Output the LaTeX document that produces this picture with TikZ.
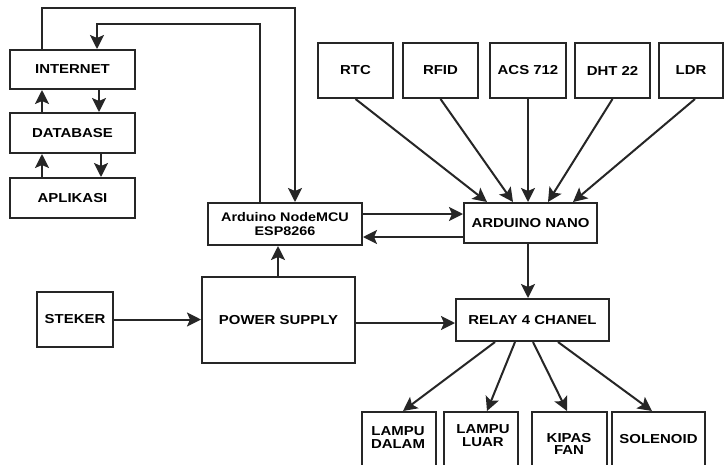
\documentclass[tikz,border=0pt]{standalone}
\usepackage{fontspec}
\setmainfont{Liberation Sans}[FakeStretch=1.15]
\usetikzlibrary{arrows.meta}
\begin{document}
\begin{tikzpicture}[x=1pt,y=-1pt,
  box/.style={draw=black!85, line width=2pt, fill=white, inner sep=0pt, align=center,
    font=\fontsize{13}{13}\selectfont\bfseries},
  lbl/.style={inner sep=0pt, align=center, font=\fontsize{13}{12.5}\selectfont\bfseries},
  arr/.style={draw=black!85, line width=2pt, -{Stealth[length=14pt,width=14pt,inset=3pt]}},
  ln/.style={draw=black!85, line width=2pt}]
\fill[white] (0,0) rectangle (726,464);
\useasboundingbox (0,0) rectangle (726,464);
% left column
\node[box, minimum width=125pt, minimum height=39pt] (internet) at (72.5,69.5) {INTERNET};
\node[box, minimum width=125pt, minimum height=40pt] (database) at (72.5,133) {DATABASE};
\node[box, minimum width=125pt, minimum height=40pt] (aplikasi) at (72.5,198) {APLIKASI};
% middle
\node[box, minimum width=154pt, minimum height=42pt, font=\fontsize{12.5}{14}\selectfont\bfseries] (nodemcu) at (285,224) {Arduino NodeMCU\\ESP8266};
\node[box, minimum width=133pt, minimum height=40pt] (nano) at (530.5,223) {ARDUINO NANO};
\node[box, minimum width=76pt, minimum height=55pt] (steker) at (75,319.5) {STEKER};
\node[box, minimum width=153pt, minimum height=86pt] (power) at (278.5,320) {POWER SUPPLY};
\node[box, minimum width=153pt, minimum height=42pt] (relay) at (532.5,320) {RELAY 4 CHANEL};
% sensors
\node[box, minimum width=75pt, minimum height=55pt] (rtc) at (355.5,70.5) {RTC};
\node[box, minimum width=75pt, minimum height=55pt] (rfid) at (440.5,70.5) {RFID};
\node[box, minimum width=76pt, minimum height=55pt] (acs) at (528,70.5) {ACS 712};
\node[box, minimum width=75pt, minimum height=55pt] (dht) at (612.5,70.5) {DHT 22};
\node[box, minimum width=64pt, minimum height=55pt] (ldr) at (691,70.5) {LDR};
% outputs (cut by the lower edge)
\node[box, minimum width=74pt, minimum height=68pt] (dalam) at (399,446) {};
\node[box, minimum width=74pt, minimum height=68pt] (luar) at (481,446) {};
\node[box, minimum width=75pt, minimum height=68pt] (kipas) at (569.5,446) {};
\node[box, minimum width=93pt, minimum height=68pt] (solenoid) at (658.5,446) {};
\node[lbl] (dalamT) at (398,437.5) {LAMPU\\DALAM};
\node[lbl] (luarT) at (483,435.5) {LAMPU\\LUAR};
\node[lbl] (kipasT) at (569,444) {KIPAS\\FAN};
\node[lbl] (solenoidT) at (658.5,439) {SOLENOID};
% helper coordinates
\coordinate (t1) at (42,8);
\coordinate (t2) at (295,8);
\coordinate (u1) at (260,24);
\coordinate (u2) at (97,24);
\coordinate (xa) at (42,0);
\coordinate (xb) at (99,0);
\coordinate (xc) at (101,0);
\coordinate (xp) at (278,0);
\coordinate (ya) at (0,214);
\coordinate (yb) at (0,237);
\coordinate (yc) at (0,323);
\coordinate (n1) at (487,0);
\coordinate (n2) at (513,0);
\coordinate (n3) at (528,0);
\coordinate (n4) at (548,0);
\coordinate (n5) at (573,0);
\coordinate (s5) at (695,0);
\coordinate (r1) at (495,0);
\coordinate (r2) at (515,0);
\coordinate (r3) at (533,0);
\coordinate (r4) at (558,0);
\coordinate (b1) at (403,0);
\coordinate (b2) at (487,0);
\coordinate (b3) at (567,0);
\coordinate (b4) at (652,0);
% top loops
\draw[arr] (internet.north -| t1) -- (t1) -- (t2) -- (nodemcu.north -| t2);
\draw[arr] (nodemcu.north -| u1) -- (u1) -- (u2) -- (internet.north -| u2);
% left column
\draw[arr] (database.north -| xa) -- (internet.south -| xa);
\draw[arr] (internet.south -| xb) -- (database.north -| xb);
\draw[arr] (aplikasi.north -| xa) -- (database.south -| xa);
\draw[arr] (database.south -| xc) -- (aplikasi.north -| xc);
% nodemcu <-> nano
\draw[arr] (nodemcu.east |- ya) -- (nano.west |- ya);
\draw[arr] (nano.west |- yb) -- (nodemcu.east |- yb);
% power
\draw[arr] (power.north -| xp) -- (nodemcu.south -| xp);
\draw[arr] (steker.east) -- (power.west |- steker.east);
\draw[arr] (power.east |- yc) -- (relay.west |- yc);
\draw[arr] (nano.south -| n3) -- (relay.north -| n3);
% sensors
\draw[arr] (rtc.south) -- (nano.north -| n1);
\draw[arr] (rfid.south) -- (nano.north -| n2);
\draw[arr] (acs.south) -- (nano.north -| n3);
\draw[arr] (dht.south) -- (nano.north -| n4);
\draw[arr] (ldr.south -| s5) -- (nano.north -| n5);
% relay outputs
\draw[arr] (relay.south -| r1) -- (dalam.north -| b1);
\draw[arr] (relay.south -| r2) -- (luar.north -| b2);
\draw[arr] (relay.south -| r3) -- (kipas.north -| b3);
\draw[arr] (relay.south -| r4) -- (solenoid.north -| b4);
\end{tikzpicture}
\end{document}
